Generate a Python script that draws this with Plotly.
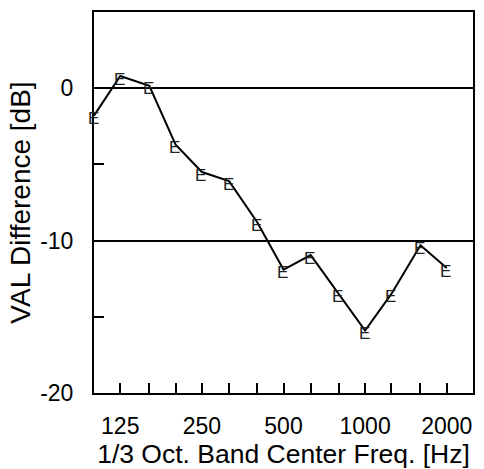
import math
import plotly.graph_objects as go

freqs = [100, 125, 160, 200, 250, 315, 400, 500, 630, 800, 1000, 1250, 1600, 2000]
val_diff = [-1.8, 0.8, 0.15, -3.7, -5.5, -6.1, -8.8, -11.9, -10.95, -13.5, -15.9, -13.5, -10.3, -11.8]
marker_char = "E"

tick_freqs = [125, 160, 200, 250, 315, 400, 500, 630, 800, 1000, 1250, 1600, 2000]
labeled = [125, 250, 500, 1000, 2000]
tick_text = [str(f) if f in labeled else "" for f in tick_freqs]

y_major = [-20, -10, 0]
y_major_text = ["-20", "-10", "0"]

font_family = "Liberation Sans, Arial, sans-serif"

fig = go.Figure()
fig.add_trace(go.Scatter(
    x=freqs, y=val_diff, mode="lines",
    line=dict(color="black", width=2),
    showlegend=False,
))

# "E" glyph markers, centred slightly below-left of each data point
for f, v in zip(freqs, val_diff):
    fig.add_annotation(
        x=math.log10(f), y=v, xref="x", yref="y", text=marker_char,
        showarrow=False, xshift=-1, yshift=-3,
        font=dict(family=font_family, size=17, color="#222"),
    )

fig.update_layout(
    width=484, height=469,
    margin=dict(l=94, r=9, t=12, b=76),
    plot_bgcolor="white", paper_bgcolor="white",
    font=dict(family=font_family, color="black"),
    xaxis=dict(
        type="log", range=[2, 3.39794],
        tickmode="array", tickvals=tick_freqs, ticktext=tick_text,
        ticks="inside", ticklen=10, tickwidth=1.5, tickcolor="black",
        showline=True, linecolor="black", linewidth=2, mirror=True,
        showgrid=False, zeroline=False,
        tickfont=dict(size=23), ticklabelstandoff=11,
        title=dict(text="1/3 Oct. Band Center Freq. [Hz]", font=dict(size=26.5), standoff=2),
    ),
    yaxis=dict(
        range=[-20, 5],
        tickmode="array", tickvals=y_major, ticktext=y_major_text,
        ticks="inside", ticklen=10, tickwidth=1.5, tickcolor="black",
        minor=dict(dtick=5, tick0=0, ticks="inside", ticklen=10, tickwidth=1.5, tickcolor="black", showgrid=False),
        showline=True, linecolor="black", linewidth=2, mirror=True,
        showgrid=True, gridcolor="black", gridwidth=2, zeroline=False,
        tickfont=dict(size=23), ticklabelstandoff=14,
        title=dict(text="VAL Difference [dB]", font=dict(size=28), standoff=1),
    ),
)

fig.write_html("out.html")
